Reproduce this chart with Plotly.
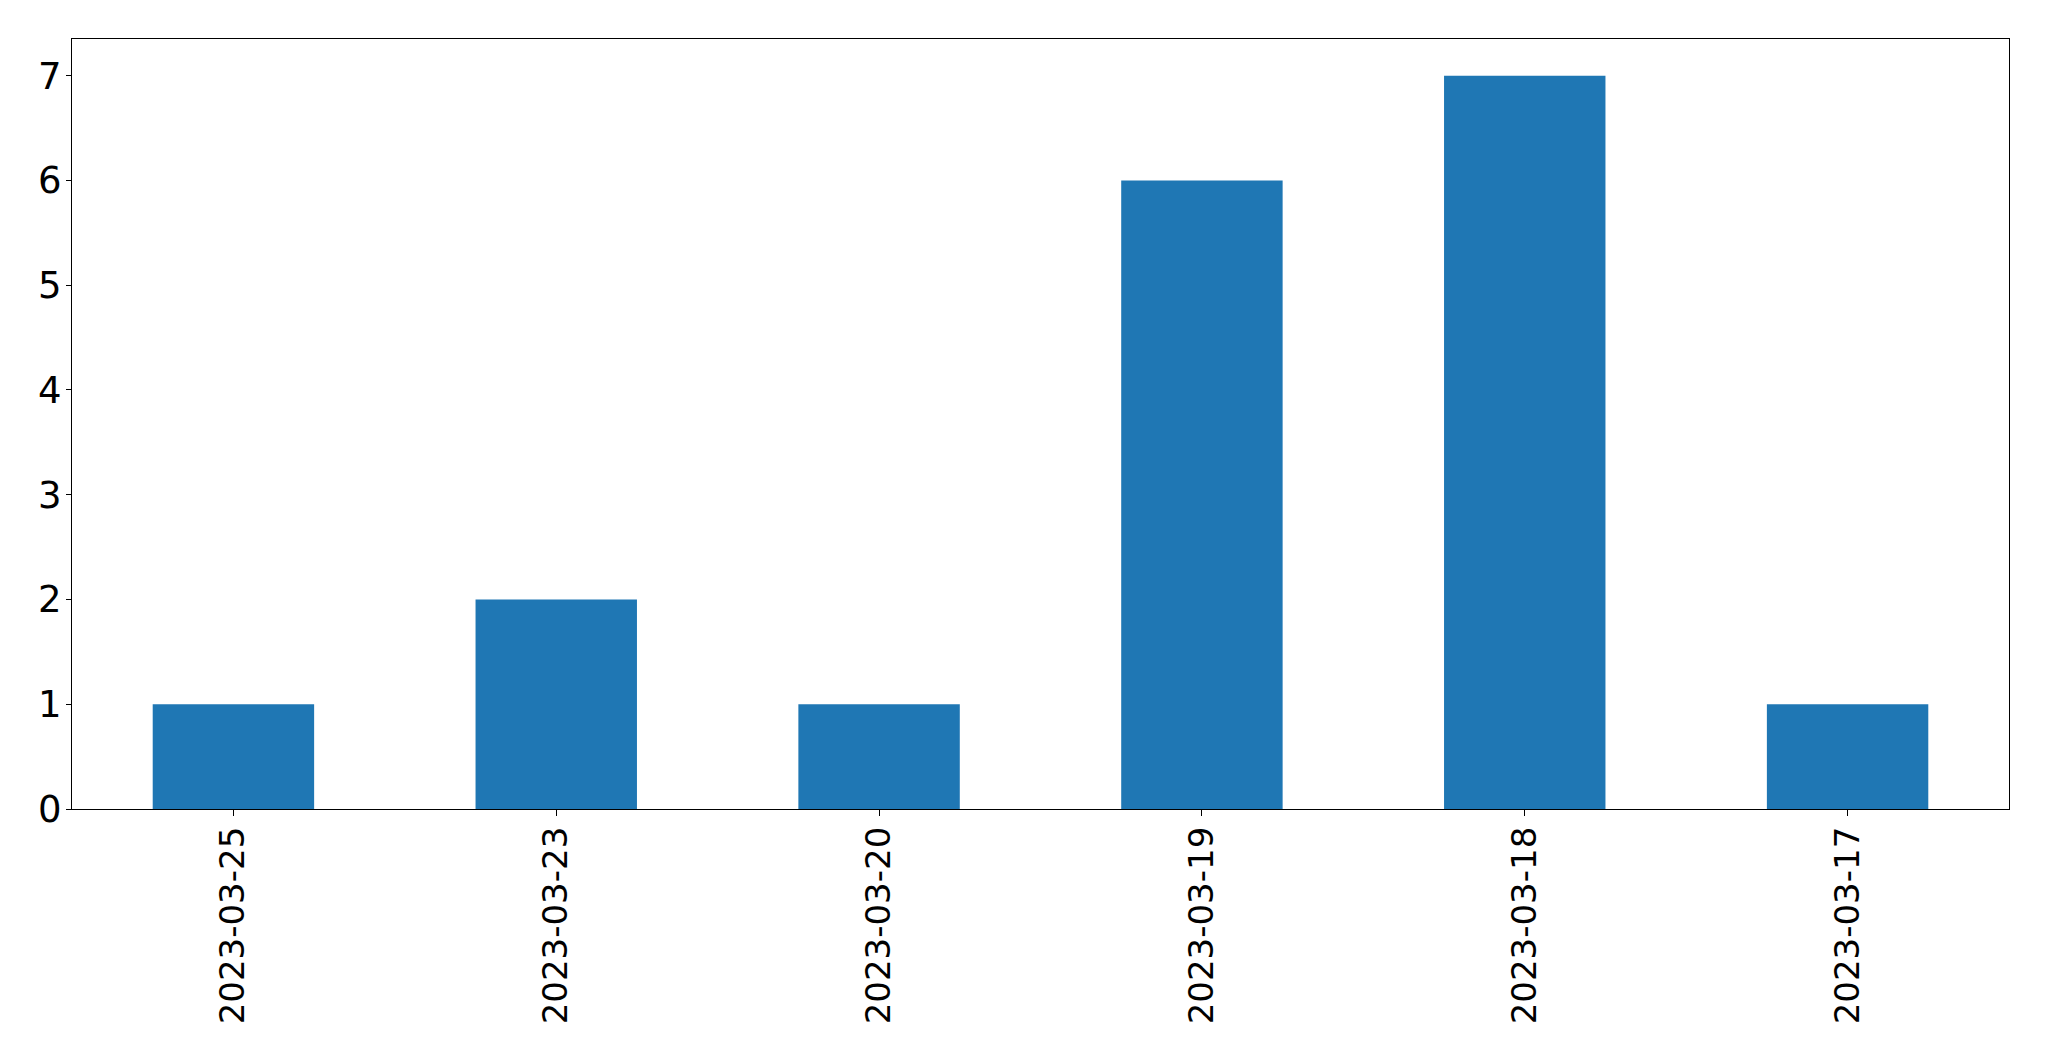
import plotly.graph_objects as go

dates = ["2023-03-25", "2023-03-23", "2023-03-20", "2023-03-19", "2023-03-18", "2023-03-17"]
counts = [1, 2, 1, 6, 7, 1]

fig = go.Figure(go.Bar(x=list(range(len(dates))), y=counts, width=0.5,
                       marker=dict(color="#1f77b4", line=dict(width=0))))

fig.update_layout(
    width=2041, height=1053,
    margin=dict(l=64, r=40, t=31, b=252),
    paper_bgcolor="white", plot_bgcolor="white",
    font=dict(family="DejaVu Sans", size=35, color="black"),
    showlegend=False,
)
fig.update_xaxes(
    range=[-0.5, 5.5], tickmode="array", tickvals=list(range(len(dates))), ticktext=dates,
    tickangle=-90, ticks="outside", ticklen=6, tickwidth=1.3, tickcolor="black",
    showline=True, linecolor="black", linewidth=1.3, mirror=True,
    showgrid=False, zeroline=False, tickfont=dict(size=34), ticklabelstandoff=-3,
)
fig.update_yaxes(
    range=[0, 7.35], tickmode="array", tickvals=list(range(8)),
    ticks="outside", ticklen=5, tickwidth=1.3, tickcolor="black",
    showline=True, linecolor="black", linewidth=1.3, mirror=True,
    showgrid=False, zeroline=False, tickfont=dict(size=37), ticklabelstandoff=-3,
)
fig.write_html("out.html")
